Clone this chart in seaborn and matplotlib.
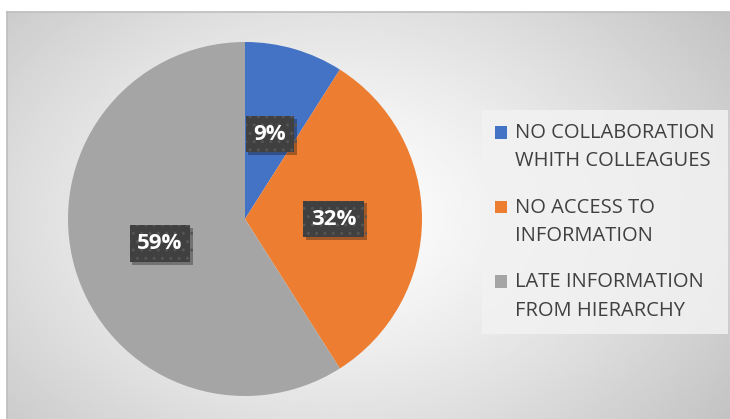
import numpy as np
import matplotlib
matplotlib.use("Agg")
import matplotlib.pyplot as plt
import matplotlib.patheffects as pe
import seaborn as sns
from matplotlib.patches import Patch

# ------------------------------
# Data
# ------------------------------
categories = ["NO COLLABORATION\nWHITH COLLEAGUES",
              "NO ACCESS TO\nINFORMATION",
              "LATE INFORMATION\nFROM HIERARCHY"]
shares = [9, 32, 59]
colors = ["#4472C4", "#ED7D31", "#A5A5A5"]

sns.set_theme(style="white")
plt.rcParams['font.family'] = ['Open Sans', 'DejaVu Sans']

W, H = 730, 419
fig = plt.figure(figsize=(W / 100, H / 100), dpi=100)
fig.patch.set_facecolor("white")

# ------------------------------
# Chart area with radial gradient
# ------------------------------
x0, y0 = 7, 12
bg = fig.add_axes([x0 / W, 0, 1 - x0 / W, 1 - y0 / H])
yy, xx = np.mgrid[0:1:200j, 0:1:400j]
r = np.sqrt(((xx - 0.45) / 0.75) ** 2 + ((yy - 0.5) / 0.95) ** 2)
shade = 1 - 0.27 * np.clip(r, 0, 1) ** 1.3
bg.imshow(shade, cmap="gray", vmin=0, vmax=1, aspect="auto",
          extent=[0, 1, 0, 1], origin="lower")
bg.set_xticks([])
bg.set_yticks([])
for s in bg.spines.values():
    s.set_visible(False)
bg.spines["top"].set_visible(True)
bg.spines["top"].set_color("#bfbfbf")
bg.spines["left"].set_visible(True)
bg.spines["left"].set_color("#bfbfbf")

# ------------------------------
# Pie
# ------------------------------
cx, cy, rad = 245, 419 - 219, 177
ax = fig.add_axes([(cx - rad) / W, (cy - rad) / H, 2 * rad / W, 2 * rad / H])
wedges, texts, autotexts = ax.pie(
    shares, colors=colors, startangle=90, counterclock=False,
    autopct="%1.0f%%", pctdistance=0.5,
    wedgeprops=dict(linewidth=0),
    textprops=dict(color="white", fontsize=16, fontweight="bold"))
for t in autotexts:
    t.set_bbox(dict(boxstyle="square,pad=0.35", facecolor="#404040",
                    edgecolor="#555555", linewidth=0, hatch=".."))
    t.get_bbox_patch().set_path_effects(
        [pe.SimplePatchShadow(offset=(2, -2), alpha=0.35), pe.Normal()])
ax.set_xlim(-1, 1)
ax.set_ylim(-1, 1)
ax.set_aspect("auto")
ax.axis("off")

# ------------------------------
# Legend
# ------------------------------
handles = [Patch(facecolor=c, edgecolor="none") for c in colors]
leg = fig.legend(handles, categories, loc="upper left",
                 bbox_to_anchor=(482 / W, 0, 246 / W, 1 - 110 / H),
                 mode="expand",
                 frameon=True, fontsize=14.5, labelspacing=1.3,
                 handlelength=0.6, handleheight=0.6, handletextpad=0.4,
                 borderpad=0.65, borderaxespad=0, fancybox=False)
leg.get_frame().set_facecolor("#f2f2f2")
leg.get_frame().set_edgecolor("none")
leg.get_frame().set_alpha(0.85)
for t in leg.get_texts():
    t.set_color("#404040")
    t.set_linespacing(1.56)
for h in leg.legend_handles:
    h.set_y(h.get_y() + 11)

fig.savefig("out.png", dpi=100)
